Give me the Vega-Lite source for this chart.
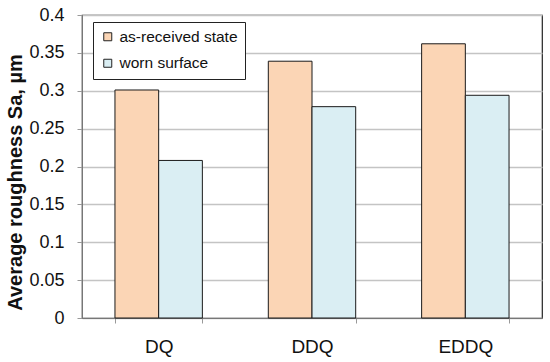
{
  "$schema": "https://vega.github.io/schema/vega-lite/v6.json",
  "width": 460,
  "height": 303,
  "autosize": {"type": "none"},
  "padding": {"left": 82, "top": 15, "right": 8, "bottom": 44},
  "background": "white",
  "config": {
    "font": "Liberation Sans",
    "view": {"stroke": "#222", "strokeWidth": 1.2},
    "axis": {"labelFont": "Liberation Sans", "titleFont": "Liberation Sans"}
  },
  "data": {
    "values": [
      {"grade": "DQ", "state": "as-received state", "sa": 0.301},
      {"grade": "DQ", "state": "worn surface", "sa": 0.208},
      {"grade": "DDQ", "state": "as-received state", "sa": 0.339},
      {"grade": "DDQ", "state": "worn surface", "sa": 0.279},
      {"grade": "EDDQ", "state": "as-received state", "sa": 0.362},
      {"grade": "EDDQ", "state": "worn surface", "sa": 0.294}
    ]
  },
  "mark": {"type": "bar", "stroke": "#1a1a1a", "strokeWidth": 1, "opacity": 1},
  "encoding": {
    "x": {
      "field": "grade",
      "type": "nominal",
      "sort": ["DQ", "DDQ", "EDDQ"],
      "scale": {"paddingInner": 0.43, "paddingOuter": 0.215},
      "axis": {
        "title": null,
        "labelAngle": 0,
        "labelFontSize": 19,
        "labelColor": "#111",
        "labelPadding": 14,
        "tickBand": "extent",
        "tickSize": 5,
        "tickColor": "#999",
        "domainColor": "#777",
        "grid": false
      }
    },
    "xOffset": {"field": "state", "type": "nominal", "sort": ["as-received state", "worn surface"]},
    "y": {
      "field": "sa",
      "type": "quantitative",
      "scale": {"domain": [0, 0.4], "nice": false},
      "axis": {
        "title": "Average roughness Sa, µm",
        "titleFontSize": 20,
        "titleFontWeight": "bold",
        "titleColor": "#111",
        "titlePadding": 3,
        "titleY": 167,
        "values": [0, 0.05, 0.1, 0.15, 0.2, 0.25, 0.3, 0.35, 0.4],
        "format": ".2~f",
        "labelFontSize": 18,
        "labelColor": "#111",
        "labelPadding": 13,
        "tickSize": 5,
        "tickColor": "#999",
        "domainColor": "#777",
        "gridColor": "#c4c4c4",
        "gridWidth": 1.3
      }
    },
    "color": {
      "field": "state",
      "type": "nominal",
      "scale": {"domain": ["as-received state", "worn surface"], "range": ["#FBD5B5", "#DAEEF3"]},
      "legend": {
        "title": null,
        "orient": "none",
        "legendX": 11,
        "legendY": 7,
        "symbolType": "square",
        "symbolSize": 64,
        "symbolStrokeColor": "#222",
        "symbolStrokeWidth": 1,
        "symbolOpacity": 1,
        "labelFontSize": 15.5,
        "labelColor": "#111",
        "labelOffset": 4,
        "rowPadding": 9.5,
        "padding": 7,
        "strokeColor": "#222",
        "fillColor": "white"
      }
    }
  }
}
